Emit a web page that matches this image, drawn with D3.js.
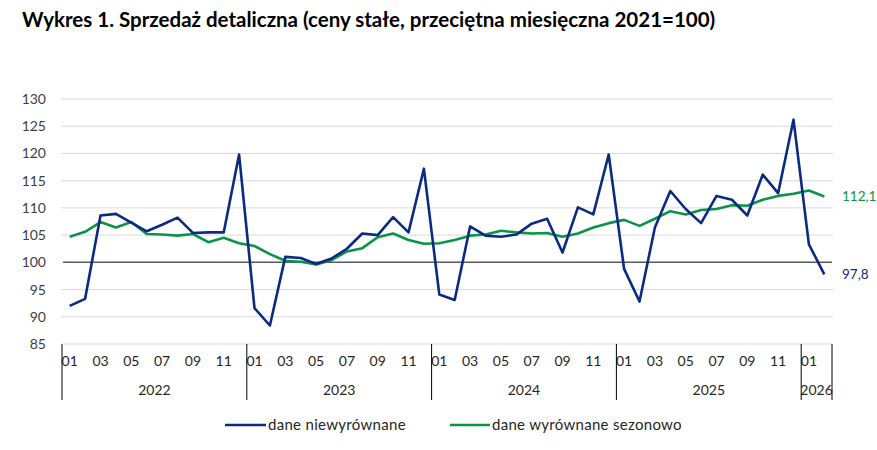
<!DOCTYPE html>
<html>
<head>
<meta charset="utf-8">
<script src="https://cdn.jsdelivr.net/npm/d3@7"></script>
<style>
  body { margin: 0; background: #fff; }
  text { font-family: Lato, "Open Sans", sans-serif; }
</style>
</head>
<body>
<svg id="chart" width="877" height="450"></svg>
<script>
// miesiące od 2022-01 do 2026-02
const years = ["2022", "2023", "2024", "2025", "2026"];
const months = [];
years.forEach((y) => {
  for (let m = 1; m <= 12; m++) {
    if (y === "2026" && m > 2) break;
    months.push(y + "-" + String(m).padStart(2, "0"));
  }
});

// dane niewyrównane
const rawValues = [
  92.0, 93.3, 108.6, 108.9, 107.3, 105.7, 106.9, 108.2, 105.4, 105.5, 105.5, 119.8,
  91.6, 88.4, 101.0, 100.8, 99.7, 100.7, 102.5, 105.3, 105.0, 108.3, 105.5, 117.2,
  94.1, 93.1, 106.6, 104.9, 104.7, 105.1, 107.1, 108.0, 101.8, 110.1, 108.8, 119.8,
  98.8, 92.8, 106.4, 113.1, 109.8, 107.2, 112.2, 111.5, 108.6, 116.1, 112.7, 126.2,
  103.3, 97.8
];

// dane wyrównane sezonowo
const saValues = [
  104.7, 105.6, 107.4, 106.4, 107.4, 105.2, 105.1, 104.9, 105.2, 103.7, 104.5, 103.5,
  103.0, 101.5, 100.3, 100.1, 99.6, 100.4, 102.0, 102.6, 104.6, 105.3, 104.1, 103.4,
  103.5, 104.1, 104.9, 105.1, 105.8, 105.5, 105.3, 105.4, 104.7, 105.3, 106.4, 107.2,
  107.8, 106.7, 108.0, 109.4, 108.8, 109.6, 109.8, 110.5, 110.4, 111.5, 112.2, 112.6,
  113.2, 112.1
];

const yTicks = [85, 90, 95, 100, 105, 110, 115, 120, 125, 130];
const seriesNames = ["dane niewyrównane", "dane wyrównane sezonowo"];

const BLUE = "#0b2a82";
const GREEN = "#0b9447";

const svg = d3.select("#chart");

// tytuł
svg.append("text")
  .attr("x", 22)
  .attr("y", 27)
  .style("font-size", "20.5px")
  .style("font-weight", "bold")
  .attr("fill", "#000")
  .text("Wykres 1. Sprzedaż detaliczna (ceny stałe, przeciętna miesięczna 2021=100)");

const plot = { left: 62, right: 832, top: 99, bottom: 344 };

const x = d3.scaleBand().domain(months).range([plot.left, plot.right]);
const y = d3.scaleLinear().domain([85, 130]).range([plot.bottom, plot.top]);
const cx = (m) => x(m) + x.bandwidth() / 2;

// siatka
svg.append("g")
  .selectAll("line")
  .data(yTicks.filter((t) => t !== 85 && t !== 100))
  .join("line")
  .attr("x1", plot.left - 1)
  .attr("x2", plot.right + 1)
  .attr("y1", (d) => y(d))
  .attr("y2", (d) => y(d))
  .attr("stroke", "#d9d9d9")
  .attr("stroke-width", 1);

// oś Y - etykiety
const yAxis = d3.axisLeft(y).tickValues(yTicks).tickSize(0).tickPadding(0);
svg.append("g")
  .attr("transform", `translate(${46},0)`)
  .call(yAxis)
  .call((g) => g.select(".domain").remove())
  .selectAll("text")
  .style("font-family", "Lato, sans-serif")
  .style("font-size", "14px")
  .attr("fill", "#404040");

// oś X - linia dolna
svg.append("line")
  .attr("x1", plot.left)
  .attr("x2", plot.right)
  .attr("y1", y(85))
  .attr("y2", y(85))
  .attr("stroke", "#d9d9d9");

// linia 100
svg.append("line")
  .attr("x1", plot.left + 1)
  .attr("x2", plot.right)
  .attr("y1", y(100))
  .attr("y2", y(100))
  .attr("stroke", "#595959")
  .attr("stroke-width", 1.5);

// etykiety miesięcy (co drugi)
const xAxis = d3.axisBottom(x)
  .tickValues(months.filter((m) => +m.slice(5) % 2 === 1))
  .tickFormat((m) => m.slice(5))
  .tickSize(0)
  .tickPadding(12);
svg.append("g")
  .attr("transform", `translate(0,${plot.bottom})`)
  .call(xAxis)
  .call((g) => g.select(".domain").remove())
  .selectAll("text")
  .style("font-family", "Lato, sans-serif")
  .style("font-size", "14px")
  .attr("fill", "#262626");

// separatory lat
const yearStarts = years.map((yr) => months.find((m) => m.startsWith(yr)));
svg.append("g")
  .selectAll("line")
  .data(yearStarts.map((m) => x(m)).concat([plot.right]))
  .join("line")
  .attr("x1", (d) => d)
  .attr("x2", (d) => d)
  .attr("y1", plot.bottom)
  .attr("y2", 400)
  .attr("stroke", "#000")
  .attr("stroke-width", 1);

// etykiety lat
svg.append("g")
  .selectAll("text")
  .data(years)
  .join("text")
  .attr("x", (yr) => {
    const ms = months.filter((m) => m.startsWith(yr));
    return (x(ms[0]) + x(ms[ms.length - 1]) + x.bandwidth()) / 2;
  })
  .attr("y", 395)
  .attr("text-anchor", "middle")
  .style("font-size", "14px")
  .attr("fill", "#262626")
  .text((yr) => yr);

// linie
const line = (vals) =>
  d3.line()
    .x((d, i) => cx(months[i]))
    .y((d) => y(d))(vals);

svg.append("path")
  .attr("d", line(saValues))
  .attr("fill", "none")
  .attr("stroke", GREEN)
  .attr("stroke-width", 2.6)
  .attr("stroke-linejoin", "round");

svg.append("path")
  .attr("d", line(rawValues))
  .attr("fill", "none")
  .attr("stroke", BLUE)
  .attr("stroke-width", 2.6)
  .attr("stroke-linejoin", "round");

// etykiety ostatnich wartości
const fmt = (v) => v.toFixed(1).replace(".", ",");
const last = months.length - 1;
svg.append("text")
  .attr("x", 842)
  .attr("y", y(saValues[last]) + 5)
  .style("font-size", "13.5px")
  .attr("fill", GREEN)
  .text(fmt(saValues[last]));
svg.append("text")
  .attr("x", 842)
  .attr("y", y(rawValues[last]) + 5)
  .style("font-size", "13.5px")
  .attr("fill", BLUE)
  .text(fmt(rawValues[last]));

// legenda
const legend = [
  { name: seriesNames[0], color: BLUE, x1: 225, x2: 266 },
  { name: seriesNames[1], color: GREEN, x1: 450, x2: 490 }
];
const lg = svg.append("g").selectAll("g").data(legend).join("g");
lg.append("line")
  .attr("x1", (d) => d.x1)
  .attr("x2", (d) => d.x2)
  .attr("y1", 425)
  .attr("y2", 425)
  .attr("stroke", (d) => d.color)
  .attr("stroke-width", 2.6);
lg.append("text")
  .attr("x", (d) => d.x2 + 2)
  .attr("y", 430)
  .style("font-size", "15px")
  .style("letter-spacing", "0.3px")
  .attr("fill", "#262626")
  .text((d) => d.name);
</script>
</body>
</html>
